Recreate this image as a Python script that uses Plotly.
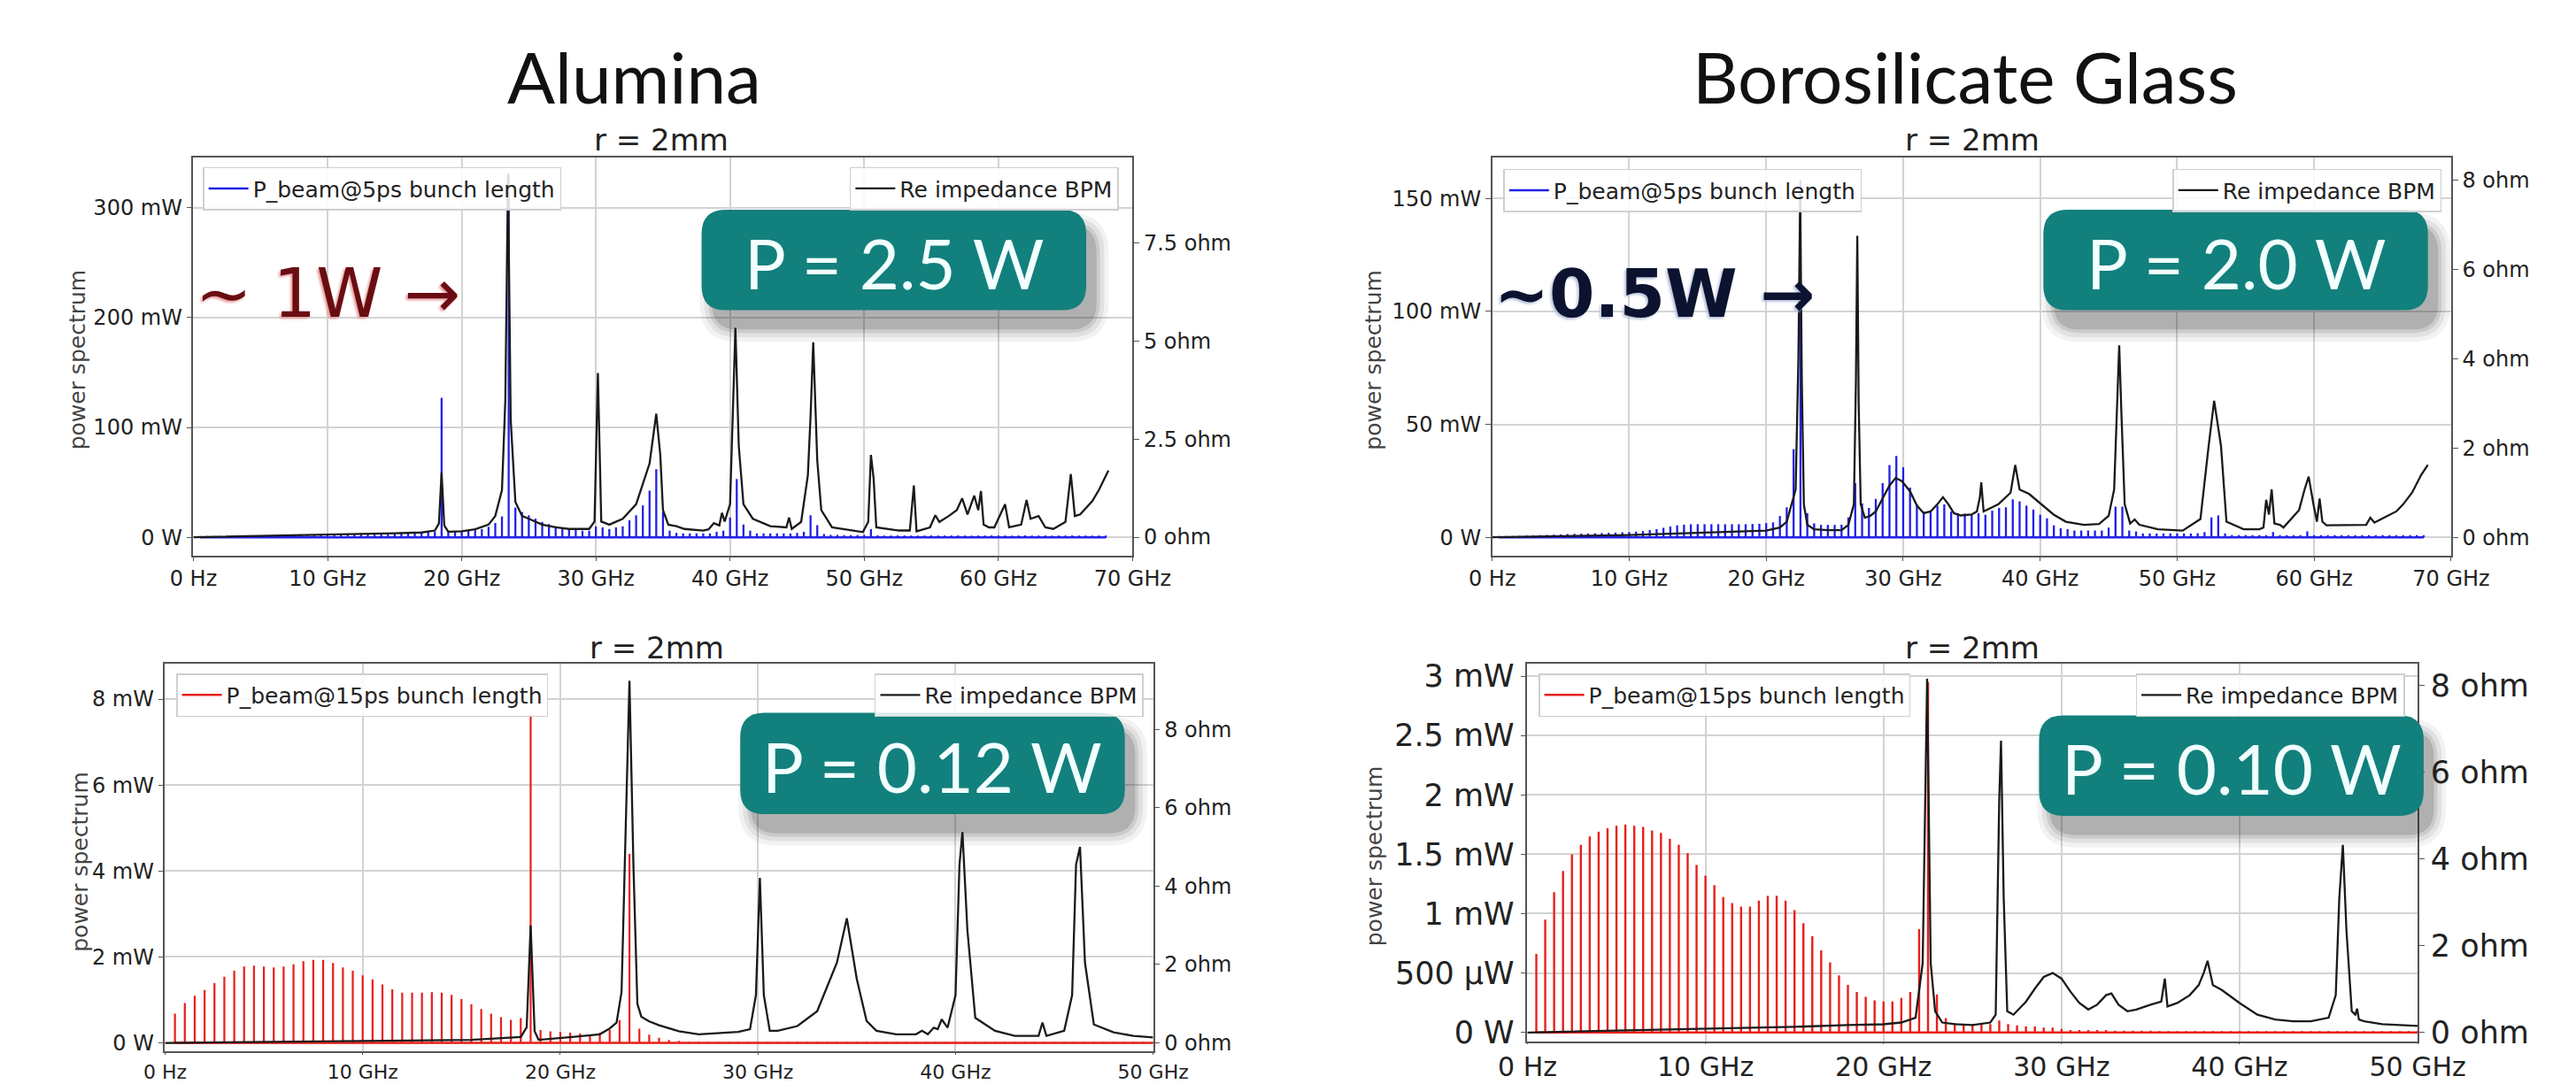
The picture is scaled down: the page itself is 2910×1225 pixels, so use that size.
import plotly.graph_objects as go

W, H = 2910, 1225

# ---------------- DATA ----------------
HARMONIC_STEP_GHZ = 0.5

# Alumina, 5 ps bunch (top-left) power per harmonic, mW (0.5 GHz .. 68 GHz)
alumina_5ps_mw = [
    0.3, 0.4, 0.5, 0.6, 0.7, 0.8, 0.9, 1.0, 1.1, 1.2,
    1.3, 1.4, 1.5, 1.6, 1.7, 1.8, 1.9, 2.0, 2.1, 2.2,
    2.3, 2.5, 2.7, 2.9, 3.1, 3.3, 3.5, 3.7, 3.9, 4.1, 4.3, 4.5, 4.6, 4.8, 5.0, 5.2,
    127,
    5.2, 5.4, 5.6, 6.0, 6.5, 7.5, 9.5, 13, 19,
    331,
    27, 23, 20, 17, 14, 12, 10, 8.5, 7.5, 6.5, 6.0, 6.0,
    10,
    9, 7.5, 9, 10, 15.5, 20, 29, 42.5,
    62, 23, 6, 4,
    3.5, 3.5, 3.5, 3.5, 3.5,
    5, 6, 18, 53, 11.6, 6,
    3.5, 3.5, 3.5, 3.5, 3.5, 3.5,
    4, 5, 20, 11, 3,
    2.2, 2.2, 2.0, 2.0, 2.0, 2.2,
    7.5,
    1.7, 1.6, 1.6, 1.7, 1.6, 1.6, 1.5, 1.6, 1.7, 1.6, 1.6, 1.6, 1.7, 1.6, 1.5, 1.6, 1.6, 1.7,
    1.6, 1.6, 1.5, 1.6, 1.7, 1.6, 1.6, 1.6, 1.5, 1.6, 1.6, 1.7, 1.6, 1.6, 1.5, 1.6, 1.6,
]

# Borosilicate glass, 5 ps bunch (top-right), mW
glass_5ps_mw = [
    0.4, 0.5, 0.6, 0.7, 0.8, 0.9, 1.0, 1.1, 1.2, 1.3,
    1.4, 1.5, 1.6, 1.7, 1.8, 1.9, 2.0, 2.1, 2.2, 2.3,
    2.5, 2.8, 3.2, 3.6,
    4.2, 4.8, 5.3, 5.6, 5.8, 5.8, 5.8, 5.8, 5.8, 5.8, 5.8, 5.8, 5.8, 5.9, 6.0, 6.3,
    6.6, 9.4, 13.3, 39, 158, 10.7, 6.2,
    5.5, 5.5, 5.5, 5.6,
    8.8, 24, 15, 13, 17, 24, 32, 36, 31, 22, 14.6, 11.4, 11.4, 14, 14.6, 11.4, 10.7,
    10.5, 10, 10.7, 10, 11.8, 13, 13.3, 16.8, 15.9, 14, 12.3, 10, 8.4, 5.3, 4, 3.6,
    3, 3, 3, 3, 3,
    4.3, 13.6, 13.6, 3, 2.6,
    1.7, 1.7, 1.7, 1.7, 1.7, 1.7, 1.7, 1.7, 1.8,
    2.3, 8.8, 9.7, 1.7,
    1.0, 1.0, 1.0, 1.0, 1.0, 1.0, 2.3, 1.0, 1.0, 1.0, 1.0, 2.6, 1.0, 1.0, 1.0,
    1.0, 1.0, 1.0, 1.0, 1.0, 1.0, 1.0, 1.0, 1.0, 1.0, 1.0, 1.0, 1.0, 1.0,
]

# Alumina, 15 ps bunch (bottom-left), mW (0.5 .. 50 GHz)
alumina_15ps_mw = [
    0.68, 0.93, 1.10, 1.23, 1.39, 1.54, 1.68, 1.78, 1.80, 1.78, 1.76, 1.78,
    1.83, 1.90, 1.93, 1.93, 1.86, 1.76, 1.68, 1.57, 1.48, 1.36, 1.25, 1.17,
    1.17, 1.17, 1.18, 1.17, 1.12, 1.02, 0.90, 0.79, 0.68, 0.60, 0.54, 0.58,
    7.65,
    0.30, 0.27, 0.26, 0.24, 0.22, 0.20, 0.24, 0.30, 0.53,
    4.4,
    0.33, 0.19, 0.12, 0.07, 0.05, 0.03,
    0.02, 0.02, 0.02, 0.02, 0.02, 0.02, 0.02, 0.015, 0.015, 0.015, 0.015, 0.015,
    0.01, 0.01, 0.01, 0.01, 0.01, 0.01, 0.01, 0.01, 0.01, 0.01, 0.01, 0.01,
    0.01, 0.01, 0.01, 0.01, 0.01, 0.01, 0.01, 0.01, 0.01, 0.01, 0.01, 0.01,
    0.01, 0.01, 0.01, 0.01, 0.01, 0.01, 0.01, 0.01, 0.01, 0.01, 0.01,
]

# Borosilicate glass, 15 ps bunch (bottom-right), mW
glass_15ps_mw = [
    0.66, 0.95, 1.18, 1.36, 1.50, 1.58, 1.65, 1.69, 1.72, 1.74, 1.75, 1.74,
    1.73, 1.70, 1.68, 1.63, 1.58, 1.51, 1.41, 1.32, 1.24, 1.14, 1.09, 1.06,
    1.06, 1.11, 1.15, 1.15, 1.11, 1.03, 0.92, 0.81, 0.69, 0.59, 0.48, 0.40,
    0.34, 0.30, 0.27, 0.26, 0.26, 0.29, 0.34,
    0.87, 2.95, 0.32, 0.12, 0.08,
    0.07, 0.07, 0.07, 0.07, 0.10, 0.07, 0.06, 0.05, 0.05, 0.04, 0.04, 0.03,
    0.02, 0.02, 0.02, 0.02, 0.02, 0.015, 0.015, 0.015, 0.015, 0.015,
    0.01, 0.01, 0.01, 0.01, 0.01, 0.01, 0.01, 0.01, 0.01, 0.01,
    0.01, 0.01, 0.01, 0.01, 0.01, 0.01, 0.01, 0.01, 0.01, 0.01,
    0.01, 0.01, 0.01, 0.01, 0.01, 0.01, 0.01, 0.01, 0.01, 0.01,
]

# Real part of BPM impedance (ohm) vs frequency (GHz)
alumina_imp_top_ghz = [0, 5, 10, 15, 17, 18.0, 18.3, 18.5, 18.7, 19.0, 20.0, 21.0, 22.0, 22.5, 23.0, 23.25,
                       23.45, 23.65, 24.0, 24.5, 25.0, 26.0, 27.0, 28.0, 29.5, 29.9, 30.15, 30.4, 31.0, 32.0,
                       33.0, 34.0, 34.5, 34.8, 35.0, 35.4, 36.0, 36.6, 38.0, 38.4, 38.8, 39.2, 39.4, 39.6,
                       40.0, 40.2, 40.4, 40.65, 41.0, 41.7, 43.0, 44.2, 44.4, 44.6, 45.3, 45.8, 46.0, 46.2,
                       46.5, 46.8, 47.6, 49.9, 50.3, 50.5, 50.7, 50.9, 52.6, 53.4, 53.7, 53.9, 54.9, 55.3,
                       55.6, 56.3, 56.9, 57.3, 57.7, 58.2, 58.5, 58.7, 58.9, 59.3, 59.7, 60.5, 60.8, 61.7,
                       62.1, 62.4, 63.0, 63.5, 64.1, 65.0, 65.4, 65.7, 66.1, 67.0, 67.5, 68.2]
alumina_imp_top_ohm = [0.0, 0.03, 0.06, 0.10, 0.12, 0.17, 0.35, 1.65, 0.3, 0.14, 0.15, 0.2, 0.32, 0.54, 1.2, 3.5,
                       9.26, 3.0, 0.9, 0.54, 0.47, 0.32, 0.25, 0.21, 0.21, 0.4, 4.19, 0.4, 0.32, 0.47,
                       0.84, 1.88, 3.15, 2.1, 0.69, 0.32, 0.28, 0.21, 0.17, 0.2, 0.36, 0.3, 0.62, 0.4,
                       0.84, 3.07, 5.34, 2.33, 0.84, 0.47, 0.28, 0.25, 0.5, 0.21, 0.39, 1.58, 3.07, 4.97,
                       1.96, 0.69, 0.25, 0.13, 0.39, 2.1, 1.5, 0.25, 0.17, 0.17, 1.32, 0.15, 0.25, 0.56,
                       0.39, 0.54, 0.69, 0.99, 0.58, 1.06, 0.69, 1.18, 0.32, 0.25, 0.25, 0.84, 0.25, 0.32,
                       0.95, 0.47, 0.54, 0.25, 0.21, 0.39, 1.61, 0.54, 0.58, 0.92, 1.21, 1.70]

glass_imp_top_ghz = [0, 5, 10, 15, 20, 21.0, 21.5, 22.15, 22.35, 22.48, 22.6, 22.75, 23.0, 23.5, 24.5, 25.5, 26.0,
                     26.4, 26.55, 26.65, 26.75, 26.9, 27.2, 27.6, 28.0, 28.5, 29.0, 29.45, 29.9, 30.5, 31.0,
                     31.5, 32.0, 32.5, 32.9, 33.3, 33.7, 34.2, 35.0, 35.38, 35.6, 35.7, 35.87, 36.95, 37.84,
                     38.18, 38.5, 39.2, 40.08, 40.98, 41.87, 43.2, 44.3, 45.0, 45.4, 45.6, 45.77, 45.94, 46.17,
                     46.57, 46.9, 47.24, 48.6, 50.4, 51.7, 52.3, 52.7, 53.2, 53.6, 54.85, 56.0, 56.3, 56.5,
                     56.7, 56.9, 57.1, 57.5, 57.76, 58.9, 59.3, 59.6, 59.95, 60.2, 60.4, 60.6, 60.9, 63.8,
                     64.1, 64.4, 65.1, 66.0, 66.5, 67.15, 67.8, 68.3]
glass_imp_top_ohm = [0.0, 0.02, 0.05, 0.10, 0.15, 0.22, 0.35, 1.07, 4.0, 7.75, 3.5, 0.74, 0.28, 0.18, 0.16, 0.16, 0.28,
                     0.74, 3.5, 6.75, 3.0, 0.74, 0.44, 0.48, 0.58, 0.87, 1.16, 1.33, 1.26, 1.03, 0.71,
                     0.54, 0.58, 0.74, 0.9, 0.74, 0.54, 0.49, 0.51, 0.58, 0.9, 1.23, 0.58, 0.74, 1.0,
                     1.62, 1.07, 0.97, 0.74, 0.51, 0.35, 0.28, 0.3, 0.48, 1.07, 3.03, 4.3, 2.7, 0.74,
                     0.31, 0.4, 0.28, 0.18, 0.15, 0.41, 2.05, 3.06, 2.05, 0.35, 0.18, 0.18, 0.22, 0.84,
                     0.51, 1.07, 0.31, 0.28, 0.22, 0.61, 1.07, 1.36, 0.74, 0.35, 0.87, 0.35, 0.27, 0.28,
                     0.44, 0.33, 0.44, 0.58, 0.74, 1.0, 1.39, 1.62]

alumina_imp_bot_ghz = [0, 5, 10, 15.5, 17.0, 18.0, 18.3, 18.5, 18.7, 18.9, 20.6, 22.0, 22.5, 22.85, 23.1, 23.3,
                       23.5, 23.7, 23.9, 24.1, 24.5, 25.0, 26.0, 27.0, 28.0, 29.0, 29.6, 29.9, 30.1, 30.3,
                       30.6, 31.0, 32.0, 33.0, 34.0, 34.5, 35.0, 35.5, 36.0, 37.0, 38.0, 38.3, 38.6, 38.9,
                       39.1, 39.3, 39.6, 40.0, 40.2, 40.35, 40.6, 41.0, 42.0, 43.0, 44.2, 44.4, 44.6, 45.5,
                       45.9, 46.1, 46.3, 46.55, 47.0, 48.0, 49.0, 50.0]
alumina_imp_bot_ohm = [0.0, 0.02, 0.05, 0.08, 0.12, 0.15, 0.4, 3.0, 0.3, 0.08, 0.15, 0.22, 0.37, 0.52, 1.3, 5.38,
                       9.24, 4.55, 1.0, 0.67, 0.55, 0.45, 0.3, 0.22, 0.25, 0.28, 0.35, 1.22, 4.21, 1.22,
                       0.31, 0.31, 0.43, 0.81, 2.05, 3.18, 1.64, 0.56, 0.31, 0.22, 0.22, 0.31, 0.22, 0.39,
                       0.35, 0.6, 0.39, 1.22, 4.55, 5.38, 2.88, 0.64, 0.31, 0.18, 0.18, 0.52, 0.18, 0.31,
                       1.22, 4.55, 5.0, 2.05, 0.47, 0.27, 0.18, 0.14]

glass_imp_bot_ghz = [0, 5, 10, 15, 18, 20, 21, 21.8, 22.2, 22.45, 22.65, 22.9, 23.3, 24, 25, 26, 26.3, 26.5,
                     26.6, 26.75, 26.95, 27.3, 28, 28.5, 29, 29.5, 30, 30.5, 31, 31.5, 32, 32.5, 32.8, 33.2,
                     33.7, 34.2, 35, 35.6, 35.8, 35.95, 36.5, 37.2, 37.7, 38.0, 38.2, 38.5, 39, 40, 41, 42,
                     43, 44, 45, 45.4, 45.6, 45.8, 46.0, 46.3, 46.5, 46.6, 46.7, 47, 48, 49, 50]
glass_imp_bot_ohm = [0.0, 0.04, 0.08, 0.13, 0.17, 0.19, 0.23, 0.34, 1.6, 8.15, 1.6, 0.49, 0.23, 0.19, 0.17, 0.23, 0.41, 5.37,
                     6.72, 3.1, 0.49, 0.41, 0.71, 1.01, 1.28, 1.37, 1.24, 0.94, 0.68, 0.53, 0.64, 0.86, 0.9, 0.64,
                     0.49, 0.53, 0.64, 0.71, 1.24, 0.6, 0.68, 0.86, 1.09, 1.39, 1.65, 1.09, 0.98, 0.68, 0.41, 0.3,
                     0.26, 0.26, 0.34, 0.86, 3.1, 4.32, 2.36, 0.49, 0.41, 0.55, 0.3, 0.26, 0.19, 0.17, 0.15]

x_ticks_70 = [0, 10, 20, 30, 40, 50, 60, 70]
x_ticks_50 = [0, 10, 20, 30, 40, 50]
x_labels_70 = ["0 Hz", "10 GHz", "20 GHz", "30 GHz", "40 GHz", "50 GHz", "60 GHz", "70 GHz"]
x_labels_50 = ["0 Hz", "10 GHz", "20 GHz", "30 GHz", "40 GHz", "50 GHz"]

tl_y_ticks, tl_y_labels = [0, 100, 200, 300], ["0 W", "100 mW", "200 mW", "300 mW"]
tl_y2_ticks, tl_y2_labels = [0, 2.5, 5, 7.5], ["0 ohm", "2.5 ohm", "5 ohm", "7.5 ohm"]
tr_y_ticks, tr_y_labels = [0, 50, 100, 150], ["0 W", "50 mW", "100 mW", "150 mW"]
ohm8_ticks, ohm8_labels = [0, 2, 4, 6, 8], ["0 ohm", "2 ohm", "4 ohm", "6 ohm", "8 ohm"]
bl_y_ticks, bl_y_labels = [0, 2, 4, 6, 8], ["0 W", "2 mW", "4 mW", "6 mW", "8 mW"]
br_y_ticks = [0, 0.5, 1, 1.5, 2, 2.5, 3]
br_y_labels = ["0 W", "500 µW", "1 mW", "1.5 mW", "2 mW", "2.5 mW", "3 mW"]

# ---------------- FIGURE ----------------
BLUE = "#2020e8"
RED = "#e8201c"
BLACK = "#1a1a1a"
TEAL = "#12807d"
FONT = "DejaVu Sans"


def harmonics(vals):
    return [HARMONIC_STEP_GHZ * (i + 1) for i in range(len(vals))]


def px(xp):
    return xp / W


def py(yp):
    return 1 - yp / H


fig = go.Figure()

panels = [
    ("x", "y", "y2", alumina_5ps_mw, BLUE, 0.15, "P_beam@5ps bunch length",
     alumina_imp_top_ghz, alumina_imp_top_ohm, "legend", "legend2"),
    ("x2", "y3", "y4", glass_5ps_mw, BLUE, 0.15, "P_beam@5ps bunch length",
     glass_imp_top_ghz, glass_imp_top_ohm, "legend3", "legend4"),
    ("x3", "y5", "y6", alumina_15ps_mw, RED, 0.1, "P_beam@15ps bunch length",
     alumina_imp_bot_ghz, alumina_imp_bot_ohm, "legend5", "legend6"),
    ("x4", "y7", "y8", glass_15ps_mw, RED, 0.12, "P_beam@15ps bunch length",
     glass_imp_bot_ghz, glass_imp_bot_ohm, "legend7", "legend8"),
]

for xa, ya, ya2, vals, col, bw, pname, ix, iy, lg1, lg2 in panels:
    fx = harmonics(vals)
    fig.add_trace(go.Bar(x=fx, y=vals, width=bw, marker=dict(color=col, line=dict(width=0)),
                         xaxis=xa, yaxis=ya, showlegend=False, hoverinfo="x+y"))
    fig.add_trace(go.Scatter(x=[fx[0], fx[-1]], y=[0, 0], mode="lines",
                             line=dict(color=col, width=2.5), name=pname,
                             xaxis=xa, yaxis=ya, legend=lg1))
    fig.add_trace(go.Scatter(x=ix, y=iy, mode="lines", line=dict(color=BLACK, width=2.3),
                             name="Re impedance BPM", xaxis=xa, yaxis=ya2,
                             legend=lg2))

axis_common = dict(showline=True, linecolor="#555555", linewidth=1.5, ticks="outside",
                   ticklen=6, tickwidth=1.2, tickcolor="#555555", zeroline=False,
                   color="#222222")
grid = dict(showgrid=True, gridcolor="#d3d3d3", gridwidth=1.5)

layout_axes = {}
specs = [
    # x id, y id, y2 id, xdom px, ydom px, xr, yr, y2r, xticks, xlabels, yticks, ylabels, y2ticks, y2labels,
    # tick font, x tick font, x tick len
    ("xaxis", "yaxis", "yaxis2", (183, 1277), (166, 622), [0, 70], [-16.7, 346], [-0.47, 9.69],
     x_ticks_70, x_labels_70, tl_y_ticks, tl_y_labels, tl_y2_ticks, tl_y2_labels, 24, 24, 4, "x", "y"),
    ("xaxis2", "yaxis3", "yaxis4", (1696, 2813), (166, 622), [0, 70], [-8.1, 168.2], [-0.41, 8.51],
     x_ticks_70, x_labels_70, tr_y_ticks, tr_y_labels, ohm8_ticks, ohm8_labels, 24, 24, 4, "x2", "y3"),
    ("xaxis3", "yaxis5", "yaxis6", (150, 1301), (746, 1190), [0, 50], [-0.203, 8.82], [-0.223, 9.67],
     x_ticks_50, x_labels_50, bl_y_ticks, bl_y_labels, ohm8_ticks, ohm8_labels, 24, 22, 2, "x3", "y5"),
    ("xaxis4", "yaxis7", "yaxis8", (1737, 2774), (746, 1178), [0, 50], [-0.074, 3.103], [-0.2, 8.49],
     x_ticks_50, x_labels_50, br_y_ticks, br_y_labels, ohm8_ticks, ohm8_labels, 35, 30, 2, "x4", "y7"),
]

for (xk, yk, y2k, xd, yd, xr, yr, y2r, xt, xl, yt, yl, y2t, y2l, fs, xfs, xtl, xref, yref) in specs:
    tf = dict(family=FONT, size=fs, color="#222222")
    xtf = dict(family=FONT, size=xfs, color="#222222")
    layout_axes[xk] = dict(axis_common, **grid, domain=[px(xd[0]), px(xd[1])], range=xr,
                           tickvals=xt, ticktext=xl, anchor=yref, mirror=True, tickfont=xtf)
    layout_axes[xk]["ticklen"] = xtl
    layout_axes[yk] = dict(axis_common, **grid, domain=[py(yd[1]), py(yd[0])], range=yr,
                           tickvals=yt, ticktext=yl, anchor=xref, tickfont=tf)
    layout_axes[y2k] = dict(axis_common, showgrid=False, overlaying=yref, side="right",
                            range=y2r, tickvals=y2t, ticktext=y2l, anchor=xref, tickfont=tf)

fig.update_layout(**layout_axes)

# legends
legend_style = dict(bgcolor="rgba(255,255,255,0.85)", bordercolor="#cfcfcf", borderwidth=1.5,
                    font=dict(family=FONT, size=25, color="#222222"), yanchor="top",
                    itemwidth=45, tracegroupgap=0)
legend_pos = {
    "legend": (194, 177, "left"), "legend2": (1261, 177, "right"),
    "legend3": (1709, 179, "left"), "legend4": (2802, 179, "right"),
    "legend5": (163, 757, "left"), "legend6": (1290, 757, "right"),
    "legend7": (1750, 757, "left"), "legend8": (2759, 757, "right"),
}
fig.update_layout(**{k: dict(legend_style, x=px(v[0]), y=py(v[1]), xanchor=v[2])
                     for k, v in legend_pos.items()})


# teal result boxes with soft shadow
def rounded_path(x0, y0, x1, y1, r):
    rx, ry = r / W, r / H
    X0, X1 = px(x0), px(x1)
    Y0, Y1 = py(y0), py(y1)
    return (f"M {X0+rx},{Y0} L {X1-rx},{Y0} Q {X1},{Y0} {X1},{Y0-ry} "
            f"L {X1},{Y1+ry} Q {X1},{Y1} {X1-rx},{Y1} L {X0+rx},{Y1} "
            f"Q {X0},{Y1} {X0},{Y1+ry} L {X0},{Y0-ry} Q {X0},{Y0} {X0+rx},{Y0} Z")


boxes = [
    (775, 226, 1223, 341, "P = 2.5 W"),
    (2338, 226, 2786, 341, "P = 2.0 W"),
    (820, 802, 1268, 918, "P = 0.12 W"),
    (2333, 805, 2781, 920, "P = 0.10 W"),
]
shapes = []
annotations = []
for (x0, y0, x1, y1, txt) in boxes:
    for grow, alpha in [(16, 0.06), (11, 0.08), (6, 0.11), (2, 0.15)]:
        shapes.append(dict(type="path", xref="paper", yref="paper", layer="above",
                           path=rounded_path(x0 + 14 - grow, y0 + 20 - grow, x1 + 10 + grow,
                                             y1 + 20 + grow, 28 + grow),
                           fillcolor=f"rgba(30,30,30,{alpha})", line=dict(width=0)))
    shapes.append(dict(type="path", xref="paper", yref="paper", layer="above",
                       path=rounded_path(x0, y0, x1, y1, 28), fillcolor=TEAL, line=dict(width=0)))
    annotations.append(dict(x=px((x0 + x1) / 2), y=py((y0 + y1) / 2 + 3), xref="paper", yref="paper",
                            text=txt, showarrow=False, xanchor="center", yanchor="middle",
                            font=dict(family="Lato", size=78, color="#f2fffe")))

# titles
titles = [("Alumina", 697, 73, 80), ("Borosilicate Glass", 2247, 73, 80)]
for t, x, y, s in titles:
    annotations.append(dict(x=px(x), y=py(y), xref="paper", yref="paper", text=t, showarrow=False,
                            xanchor="center", yanchor="middle",
                            font=dict(family="Lato", size=s, color="#111111")))

subtitles = [(728, 146), (2255, 146), (723, 727), (2255, 727)]
for x, y in subtitles:
    annotations.append(dict(x=px(x), y=py(y), xref="paper", yref="paper", text="r = 2mm", showarrow=False,
                            xanchor="center", yanchor="middle",
                            font=dict(family=FONT, size=34, color="#222222")))

ytitles = [(48, 398), (1558, 398), (51, 972), (1558, 966)]
for x, y in ytitles:
    annotations.append(dict(x=px(x), y=py(y), xref="paper", yref="paper", text="power spectrum",
                            showarrow=False, textangle=-90, xanchor="center", yanchor="middle",
                            font=dict(family=FONT, size=25, color="#444444")))

# hand-written notes
annotations.append(dict(x=px(340), y=py(322), xref="paper", yref="paper", text="∼ 1W →", showarrow=False,
                        xanchor="center", yanchor="middle",
                        font=dict(family=FONT, size=76, color="#6a0d12", shadow="-2px 2px 3px #e49a9a")))
annotations.append(dict(x=px(1885), y=py(322), xref="paper", yref="paper", text="∼0.5W →", showarrow=False,
                        xanchor="center", yanchor="middle",
                        font=dict(family=FONT, size=74, color="#0b1330", weight="bold",
                                  shadow="-2px 2px 3px #b8c0d8")))

fig.update_layout(
    width=W, height=H, autosize=False,
    margin=dict(l=0, r=0, t=0, b=0, pad=0),
    paper_bgcolor="white", plot_bgcolor="white",
    barmode="overlay",
    shapes=shapes, annotations=annotations,
    font=dict(family=FONT, color="#222222"),
)

fig.write_html("out.html")
